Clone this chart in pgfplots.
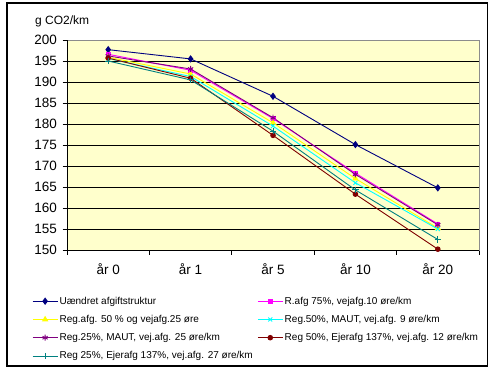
\documentclass[border=0pt]{standalone}
\usepackage{pgfplots}
\pgfplotsset{compat=1.18}
\usepackage{fontspec}
\setmainfont{Liberation Sans}
\definecolor{plotbg}{HTML}{FFFFCC}
\definecolor{sNavy}{HTML}{000080}
\definecolor{sMag}{HTML}{FF00FF}
\definecolor{sYel}{HTML}{FFFF00}
\definecolor{sCyan}{HTML}{00FFFF}
\definecolor{sPurp}{HTML}{800080}
\definecolor{sDRed}{HTML}{800000}
\definecolor{sTeal}{HTML}{008080}
\begin{document}
\begin{tikzpicture}[x=1bp,y=1bp]
\useasboundingbox (-67,-121) rectangle (426,250);
\draw[line width=1.2bp] (-60,247) rectangle (420.5,-116);
\begin{axis}[name=ax, at={(0,0)}, anchor=south west,
  scale only axis, width=412bp, height=210bp,
  clip=false,
  axis background/.style={fill=plotbg},
  axis line style={draw=gray!90, line width=0.8bp},
  xmin=-0.5, xmax=4.5, ymin=150, ymax=200,
  ytick={150,155,...,200},
  xtick={-0.5,0.5,...,4.5}, xticklabels={},
  extra x ticks={0,1,2,3,4},
  extra x tick labels={år 0,år 1,år 5,år 10,år 20},
  extra x tick style={major tick length=0pt, grid=none},
  tick align=outside, major tick length=4.5bp,
  tick style={black, line width=0.8bp},
  xtick pos=bottom, ytick pos=left,
  ymajorgrids, grid style={black, line width=0.8bp},
  /pgf/number format/assume math mode=true,
  ticklabel style={font=\fontsize{13.5bp}{15bp}\selectfont},
  xticklabel style={yshift=-10bp},
  yticklabel style={xshift=-2bp},
  legend columns=2,
  legend cell align=left,
  legend style={draw=none, fill=none, inner sep=0pt,
    at={(-0.085,-0.215)}, anchor=north west,
    font=\fontsize{10bp}{11bp}\selectfont,
    row sep=6.5bp,
    /tikz/every even column/.append style={column sep=3bp},
    nodes={inner sep=1.5bp}},
  legend image code/.code={\draw[mark repeat=2,mark phase=2] plot coordinates {(0bp,0bp) (12.5bp,0bp) (25bp,0bp)};},
  every axis plot/.append style={line width=0.9bp},
]
\addplot[sNavy, mark=diamond*, mark size=3bp] coordinates {(0,197.7) (1,195.5) (2,186.6) (3,175.1) (4,164.8)};
\addlegendentry{Uændret afgiftstruktur}
\addplot[sMag, mark=square*, mark size=2bp] coordinates {(0,196.6) (1,192.8) (2,181.3) (3,168.3) (4,156.2)};
\addlegendentry{R.afg 75\%, vejafg.10 øre/km}
\addplot[sYel, mark=triangle*, mark size=2.8bp] coordinates {(0,195.9) (1,191.9) (2,180.3) (3,167.0) (4,155.2)};
\addlegendentry{Reg.afg. 50 \% og vejafg.25 øre}
\addplot[sCyan, mark=x, mark size=2.8bp] coordinates {(0,195.6) (1,191.3) (2,179.5) (3,166.0) (4,155.0)};
\addlegendentry{Reg.50\%, MAUT, vej.afg. 9 øre/km}
\addplot[sPurp, mark=asterisk, mark size=3bp] coordinates {(0,196.2) (1,193.1) (2,181.5) (3,168.0) (4,156.0)};
\addlegendentry{Reg.25\%, MAUT, vej.afg. 25 øre/km}
\addplot[sDRed, mark=*, mark size=2.3bp] coordinates {(0,195.7) (1,190.9) (2,177.3) (3,163.3) (4,150.2)};
\addlegendentry{Reg 50\%, Ejerafg 137\%, vej.afg. 12 øre/km}
\addplot[sTeal, mark=+, mark size=3.2bp] coordinates {(0,195.0) (1,190.5) (2,178.3) (3,164.3) (4,152.5)};
\addlegendentry{Reg 25\%, Ejerafg 137\%, vej.afg. 27 øre/km}
\draw[black, line width=0.8bp] (rel axis cs:0,1) -- (rel axis cs:0,0) -- (rel axis cs:1,0);
\end{axis}
\node[anchor=west, font=\fontsize{12bp}{13bp}\selectfont, inner sep=0pt] at (-32,229) {g CO2/km};
\end{tikzpicture}
\end{document}
